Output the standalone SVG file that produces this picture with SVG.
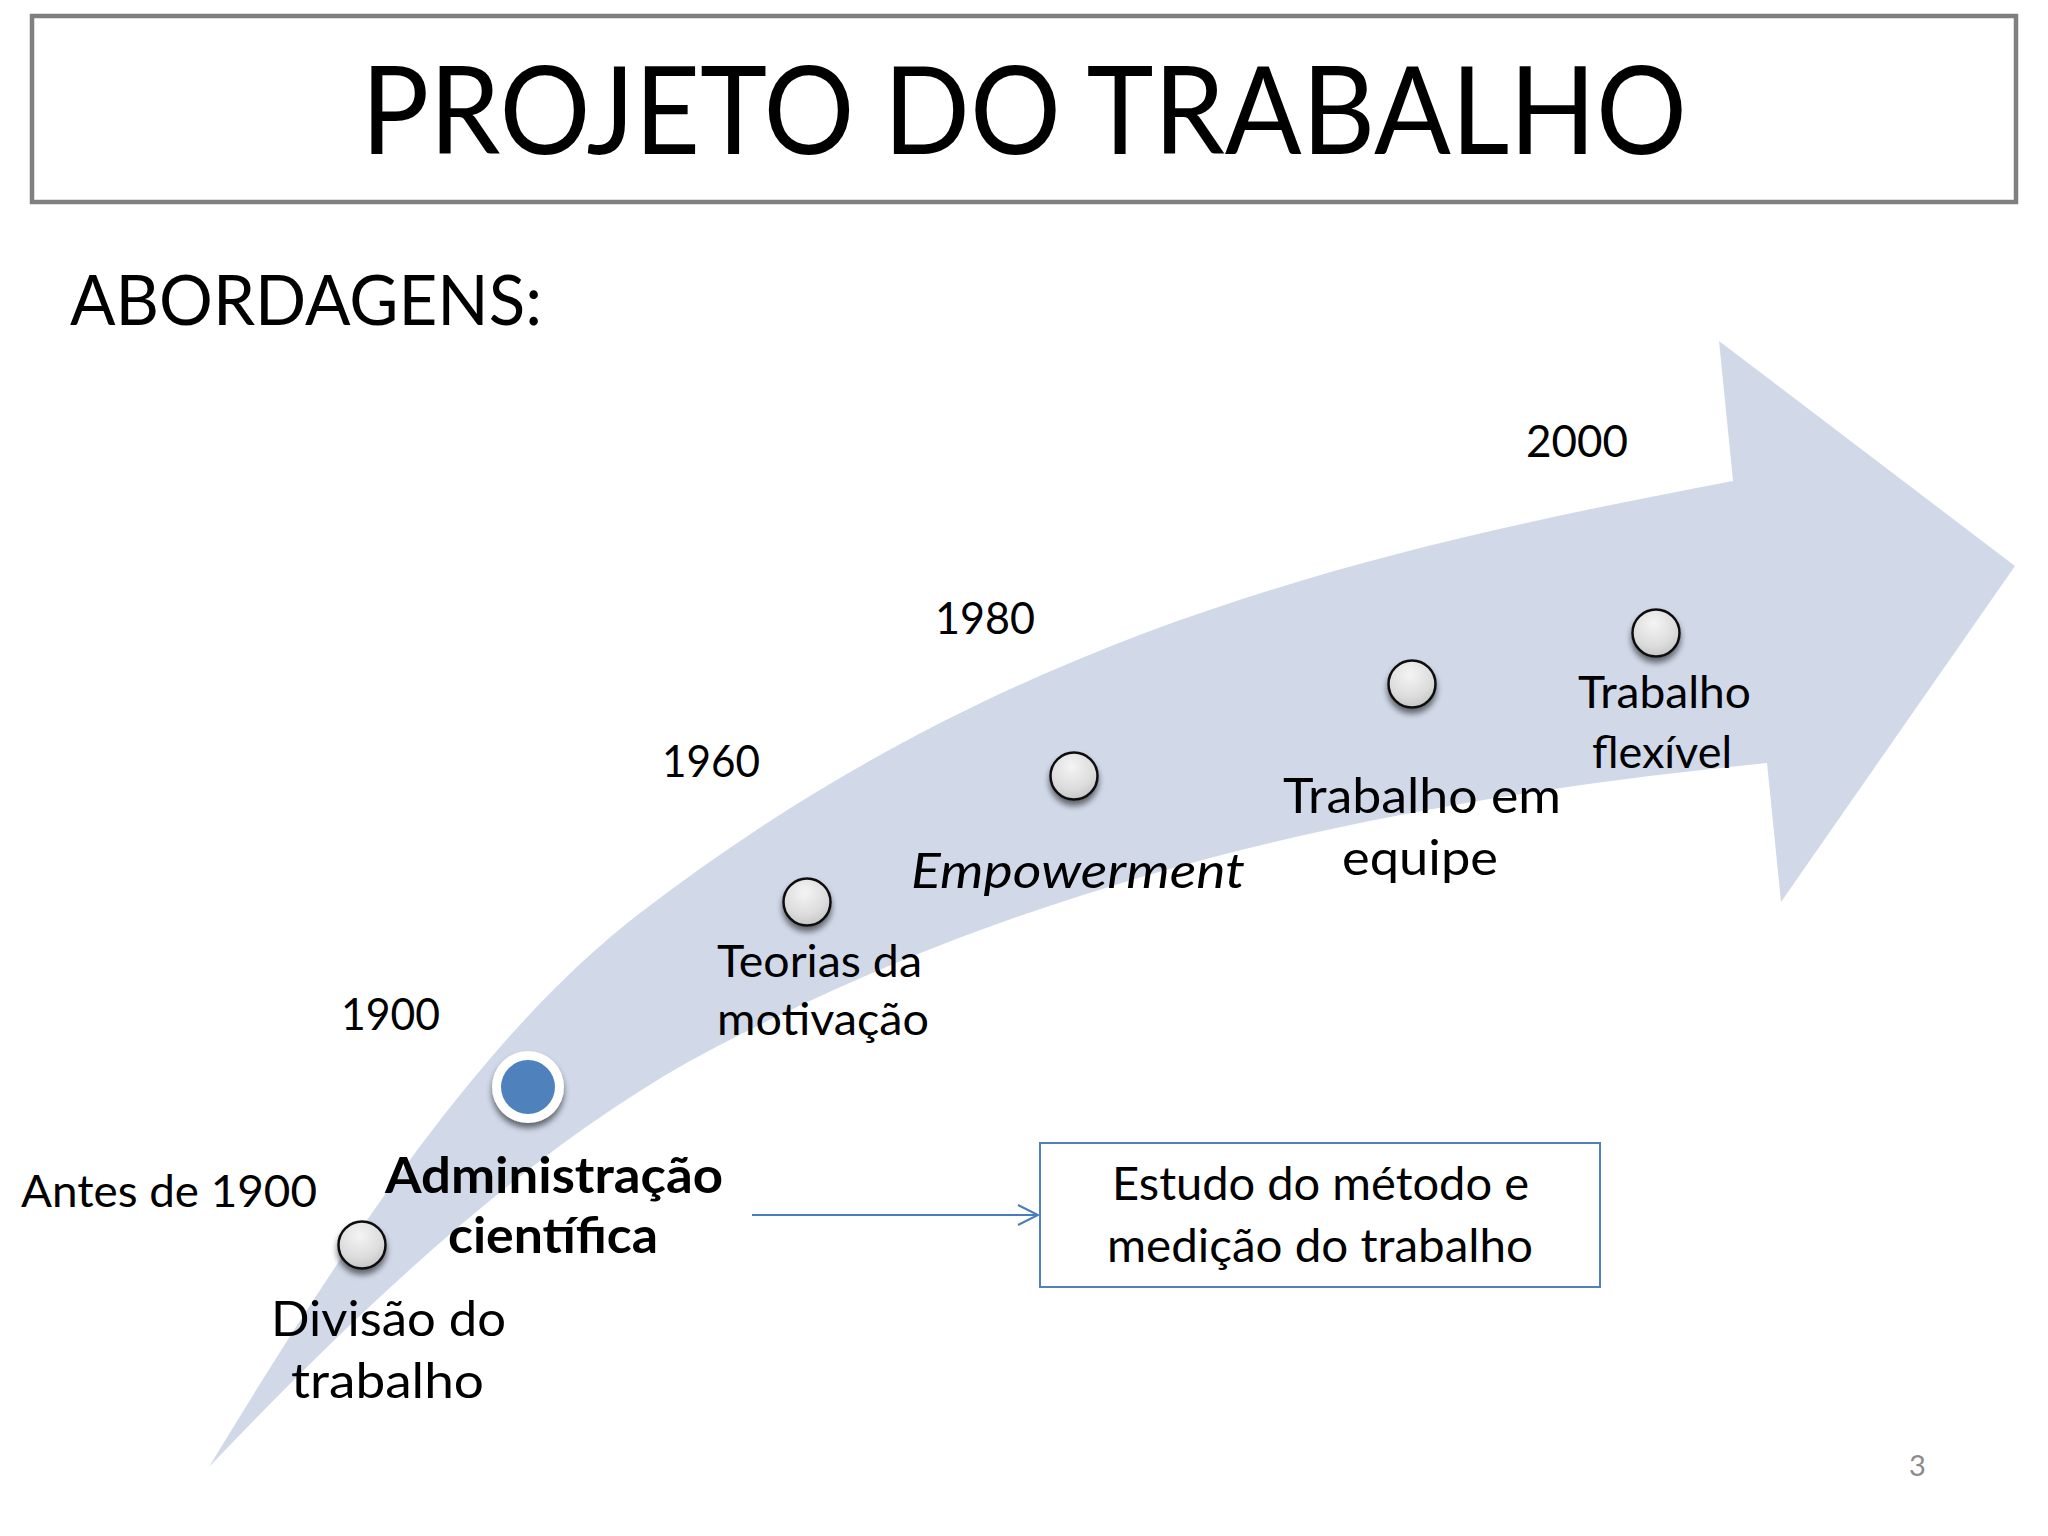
<svg xmlns="http://www.w3.org/2000/svg" width="2048" height="1536" viewBox="0 0 2048 1536">
  <style>
    text { font-family: Lato, "Liberation Sans", sans-serif; fill: #000; }
    .yr { font-size: 44px; }
    .lbl { font-size: 49px; }
    .sm { font-size: 44px; }
    .dot { fill: url(#dotGrad); stroke: #111; stroke-width: 2.5; filter: url(#shadow); }
  </style>
  <defs>
    <radialGradient id="dotGrad" cx="0.45" cy="0.3" r="0.8">
      <stop offset="0" stop-color="#f4f4f4"/>
      <stop offset="0.6" stop-color="#dcdcdc"/>
      <stop offset="1" stop-color="#bdbdbd"/>
    </radialGradient>
    <filter id="shadow" x="-50%" y="-50%" width="200%" height="200%">
      <feGaussianBlur in="SourceAlpha" stdDeviation="3"/>
      <feOffset dx="0" dy="5" result="b"/>
      <feComponentTransfer><feFuncA type="linear" slope="0.55"/></feComponentTransfer>
      <feMerge><feMergeNode/><feMergeNode in="SourceGraphic"/></feMerge>
    </filter>
    <marker id="openArrow" markerWidth="24" markerHeight="24" refX="21" refY="11" orient="auto" markerUnits="userSpaceOnUse">
      <path d="M1,1 L21,11 L1,21" fill="none" stroke="#4A7EBB" stroke-width="2"/>
    </marker>
  </defs>

  <rect width="2048" height="1536" fill="#ffffff"/>

  <g id="title">
    <rect x="32" y="16" width="1984" height="186" fill="#ffffff" stroke="#7F7F7F" stroke-width="4.5"/>
    <text x="361" y="154" font-size="123" textLength="1326" lengthAdjust="spacingAndGlyphs">PROJETO DO TRABALHO</text>
  </g>

  <g id="subtitle">
    <text x="70" y="325" font-size="70" textLength="472" lengthAdjust="spacingAndGlyphs">ABORDAGENS:</text>
  </g>

  <g id="timeline-arrow">
    <path d="M209,1467 C359,1219.5 490,1028.5 640,913 C1004,633 1369,550 1733,481 L1719,341 L2015,566 L1781,902 L1767,763 C1417,798 1066,865 716,1047 C547,1134.9 378,1289.5 209,1467 Z" fill="#D1D9E9"/>
  </g>

  <g id="years">
    <text class="yr" x="21" y="1207" textLength="296" lengthAdjust="spacingAndGlyphs">Antes de 1900</text>
    <text class="yr" x="341" y="1030" textLength="99" lengthAdjust="spacingAndGlyphs">1900</text>
    <text class="yr" x="662" y="777" textLength="98" lengthAdjust="spacingAndGlyphs">1960</text>
    <text class="yr" x="935" y="634" textLength="100" lengthAdjust="spacingAndGlyphs">1980</text>
    <text class="yr" x="1526" y="457" textLength="102" lengthAdjust="spacingAndGlyphs">2000</text>
  </g>

  <g id="node-divisao">
    <circle class="dot" cx="362" cy="1245" r="23.5"/>
    <text class="lbl" x="271" y="1336" textLength="235" lengthAdjust="spacingAndGlyphs">Divisão do</text>
    <text class="lbl" x="291" y="1398" textLength="193" lengthAdjust="spacingAndGlyphs">trabalho</text>
  </g>

  <g id="node-administracao">
    <circle cx="528" cy="1087" r="36" fill="#ffffff" filter="url(#shadow)"/>
    <circle cx="528" cy="1087" r="27" fill="#4F81BD"/>
    <text class="lbl" x="385" y="1193" font-weight="bold" textLength="338" lengthAdjust="spacingAndGlyphs">Administração</text>
    <text class="lbl" x="448" y="1253" font-weight="bold" textLength="210" lengthAdjust="spacingAndGlyphs">científica</text>
  </g>

  <g id="node-teorias">
    <circle class="dot" cx="807" cy="902" r="23.5"/>
    <text class="sm" x="717" y="977" textLength="205" lengthAdjust="spacingAndGlyphs">Teorias da</text>
    <text class="sm" x="717" y="1035" textLength="212" lengthAdjust="spacingAndGlyphs">motivação</text>
  </g>

  <g id="node-empowerment">
    <circle class="dot" cx="1074" cy="776" r="23.5"/>
    <text class="lbl" x="911" y="888" font-style="italic" textLength="334" lengthAdjust="spacingAndGlyphs">Empowerment</text>
  </g>

  <g id="node-equipe">
    <circle class="dot" cx="1412" cy="684" r="23.5"/>
    <text class="lbl" x="1283" y="813" textLength="278" lengthAdjust="spacingAndGlyphs">Trabalho em</text>
    <text class="lbl" x="1342" y="875" textLength="156" lengthAdjust="spacingAndGlyphs">equipe</text>
  </g>

  <g id="node-flexivel">
    <circle class="dot" cx="1656" cy="633" r="23.5"/>
    <text class="sm" x="1578" y="708" textLength="173" lengthAdjust="spacingAndGlyphs">Trabalho</text>
    <text class="sm" x="1592" y="768" textLength="140" lengthAdjust="spacingAndGlyphs">flexível</text>
  </g>

  <g id="connectors">
    <line x1="752" y1="1215" x2="1038" y2="1215" stroke="#4A7EBB" stroke-width="2" marker-end="url(#openArrow)"/>
  </g>

  <g id="node-estudo">
    <rect x="1040" y="1143" width="560" height="144" fill="#ffffff" stroke="#4F81BD" stroke-width="2"/>
    <text x="1112" y="1200" font-size="46" textLength="417" lengthAdjust="spacingAndGlyphs">Estudo do método e</text>
    <text x="1107" y="1262" font-size="46" textLength="426" lengthAdjust="spacingAndGlyphs">medição do trabalho</text>
  </g>

  <g id="page-number">
    <text x="1909" y="1476" font-size="29" style="fill:#8C8C8C">3</text>
  </g>
</svg>
